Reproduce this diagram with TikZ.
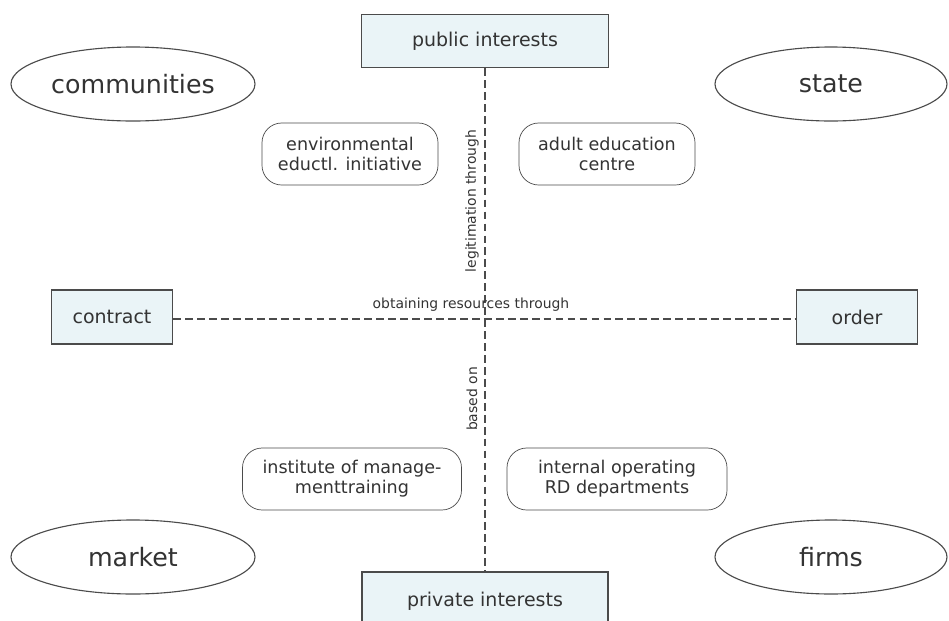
\documentclass[tikz,border=0pt]{standalone}
\usepackage{fontspec}
\setmainfont{DejaVu Sans}
\usetikzlibrary{shapes.geometric, positioning}
\definecolor{boxfill}{HTML}{EAF4F7}
\definecolor{lngray}{HTML}{4B4B4B}
\definecolor{txgray}{HTML}{333333}
\newcommand{\pxu}{0.025cm}

\tikzset{
  pole/.style={draw=lngray, fill=boxfill, line width=1pt, text=txgray, font=\fontsize{13.5}{16}\selectfont, inner sep=0pt, minimum width=121*\pxu, minimum height=54*\pxu},
  sector/.style={ellipse, draw=lngray, line width=0.8pt, text=txgray, inner sep=0pt, minimum width=244*\pxu, minimum height=74*\pxu, font=\fontsize{18}{21}\selectfont},
  example/.style={draw=lngray, rounded corners=14pt, line width=0.5pt, text=txgray, inner sep=0pt, minimum width=176*\pxu, minimum height=62*\pxu, align=center, font=\fontsize{12.5}{14.2}\selectfont},
  axis/.style={lngray, line width=1.4pt, dash pattern=on 5.5pt off 3pt},
  axislabel/.style={text=txgray, font=\fontsize{9.9}{12}\selectfont, inner sep=1pt}
}

\begin{document}
\begin{tikzpicture}[x=0.025cm, y=-0.025cm]
\useasboundingbox (0,0) rectangle (949,620);

% Poles of the two axes
\node[pole, minimum width=247*\pxu, minimum height=53*\pxu] (public) at (485,41) {public interests};
\node[pole, minimum width=246*\pxu, minimum height=58*\pxu] (private) at (485,601) {private interests};
\node[pole] (contract) at (112,317) {contract};
\node[pole] (order) at (857,317) {order};

% Sectors in the corners
\node[sector] (communities) at (133,84) {communities};
\node[sector, minimum width=232*\pxu] (state) at (831,84) {state};
\node[sector] (market) at (133,557) {market};
\node[sector, minimum width=232*\pxu] (firms) at (831,557) {firms};

% Examples
\node[example] (environ) at (350,154) {environmental\\eductl. initiative};
\node[example] (adult) at (607,154) {adult education\\centre};
\node[example, minimum width=219*\pxu] (institute) at (352,479) {institute of manage-\\menttraining};
\node[example, minimum width=220*\pxu] (internal) at (617,479) {internal operating\\RD departments};

% Axes
\draw[axis] (public.south) -- (private.north);
\draw[axis] ([yshift=-2*\pxu]contract.east) -- ([yshift=-2*\pxu]order.west);

% Axis labels
\node[axislabel, rotate=90] (legit) at (472,201) {legitimation through};
\node[axislabel] (obtain) at (471,305) {obtaining resources through};
\node[axislabel, rotate=90] (based) at (472,399) {based on};

\end{tikzpicture}
\end{document}
